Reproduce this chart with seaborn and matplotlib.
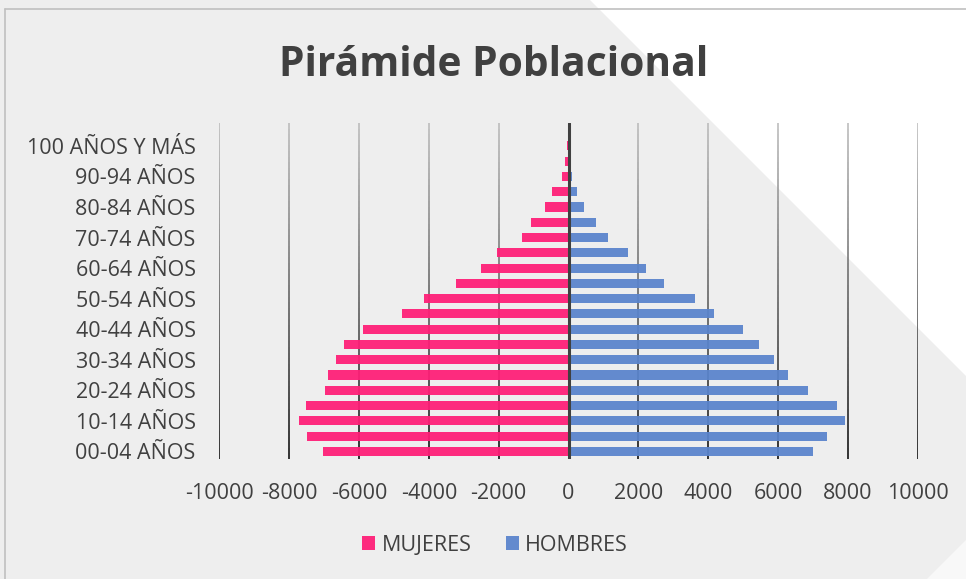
import numpy as np
import pandas as pd
import matplotlib.pyplot as plt
from matplotlib.patches import Polygon
from matplotlib.collections import LineCollection
import seaborn as sns

# --- Datos (de arriba hacia abajo: 100 y más -> 00-04) ---
grupos = ['100 AÑOS Y MÁS', '95-99 AÑOS', '90-94 AÑOS', '85-89 AÑOS', '80-84 AÑOS',
          '75-79 AÑOS', '70-74 AÑOS', '65-69 AÑOS', '60-64 AÑOS', '55-59 AÑOS',
          '50-54 AÑOS', '45-49 AÑOS', '40-44 AÑOS', '35-39 AÑOS', '30-34 AÑOS',
          '25-29 AÑOS', '20-24 AÑOS', '15-19 AÑOS', '10-14 AÑOS', '05-09 AÑOS',
          '00-04 AÑOS']
mujeres = [30, 90, 195, 470, 660, 1060, 1330, 2040, 2520, 3220,
           4130, 4770, 5890, 6420, 6660, 6880, 6970, 7510, 7720, 7490,
           7020]
hombres = [10, 20, 96, 250, 450, 785, 1140, 1700, 2210, 2740,
           3610, 4180, 5010, 5455, 5880, 6280, 6860, 7680, 7920, 7400,
           6990]
xticks = list(range(-10000, 10001, 2000))

df = pd.concat([
    pd.DataFrame({'grupo': grupos, 'sexo': 'MUJERES', 'valor': [-v for v in mujeres]}),
    pd.DataFrame({'grupo': grupos, 'sexo': 'HOMBRES', 'valor': hombres}),
])

sns.set_style("white")
plt.rcParams['font.family'] = ['Open Sans', 'DejaVu Sans']
plt.rcParams['axes.unicode_minus'] = False

W, H = 966, 579
fig = plt.figure(figsize=(W / 100, H / 100), dpi=100)
fig.patch.set_facecolor('#EEEEEE')


def fpt(px, py):
    return (px / W, 1 - py / H)


# fondo decorativo (estilo Excel)
fig.patches.append(Polygon([fpt(590, 0), fpt(966, 0), fpt(966, 376)], closed=True,
                           transform=fig.transFigure, facecolor='white', edgecolor='none', zorder=-5))
fig.patches.append(Polygon([fpt(966, 540), fpt(966, 579), fpt(927, 579)], closed=True,
                           transform=fig.transFigure, facecolor='#F8F8F8', edgecolor='none', zorder=-5))
# borde del area del grafico
fig.add_artist(plt.Line2D([5 / W, 1], [1 - 9 / H, 1 - 9 / H], transform=fig.transFigure,
                          color='#C0C0C0', lw=1.2, zorder=-4))
fig.add_artist(plt.Line2D([5 / W, 5 / W], [0, 1 - 9 / H], transform=fig.transFigure,
                          color='#C0C0C0', lw=1.2, zorder=-4))

ax = fig.add_axes([219.3 / W, 120 / H, 698.4 / W, 336 / H])
ax.set_facecolor('none')
ax.set_zorder(1)

# lineas de cuadricula con degradado (gris claro arriba -> negro abajo)
ys = np.linspace(-1.5, 20.5, 61)
for xv in xticks:
    if xv == 0:
        continue
    segs = [[(xv, ys[i]), (xv, ys[i + 1])] for i in range(len(ys) - 1)]
    t = np.linspace(0, 1, len(segs))
    g = 0.72 * (1 - t)
    cols = np.column_stack([g, g, g])
    ax.add_collection(LineCollection(segs, colors=cols, linewidths=1.1, zorder=1))

sns.barplot(
    data=df, y='grupo', x='valor', hue='sexo', order=grupos,
    hue_order=['MUJERES', 'HOMBRES'], palette={'MUJERES': '#FF1F77', 'HOMBRES': '#5A84CC'},
    dodge=False, width=0.6, orient='h', ax=ax, saturation=1, alpha=0.94,
    linewidth=0, zorder=2,
)

ax.axvline(0, color='#404040', lw=2.2, zorder=5)

ax.set_xlim(-10000, 10000)
ax.set_ylim(20.5, -1.5)
ax.set_xticks(xticks)
ax.set_xticklabels([str(x) for x in xticks])
ax.set_yticks(range(0, len(grupos), 2))
ax.set_yticklabels(grupos[::2])
ax.tick_params(axis='both', length=0, labelsize=15.5, labelcolor='#404040')
ax.tick_params(axis='x', pad=17)
ax.tick_params(axis='y', pad=17)
ax.set_xlabel('')
ax.set_ylabel('')
for s in ax.spines.values():
    s.set_visible(False)

sns.move_legend(ax, 'center', bbox_to_anchor=(0.395, -0.256), ncol=2, frameon=False,
                title=None, fontsize=15.5, handlelength=0.6, handleheight=0.6,
                handletextpad=0.3, columnspacing=1.6, labelcolor='#404040')

fig.text(494 / W, 1 - 76 / H, 'Pirámide Poblacional', ha='center', va='baseline',
         fontsize=29.3, fontweight='bold', color='#404040')

fig.savefig('out.png', dpi=100, facecolor=fig.get_facecolor())
